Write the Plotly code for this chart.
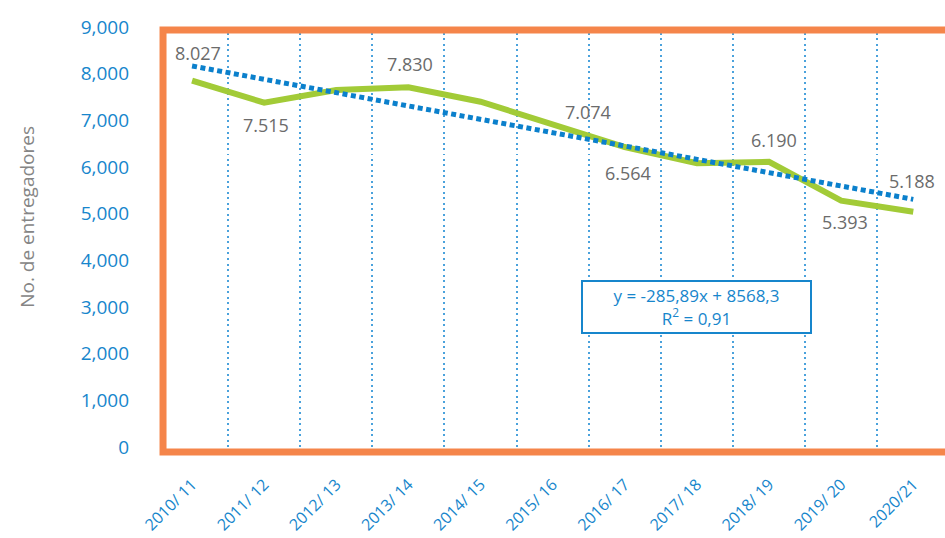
import plotly.graph_objects as go

# ---- data ----
categories = ["2010/ 11", "2011/ 12", "2012/ 13", "2013/ 14", "2014/ 15", "2015/ 16",
              "2016/ 17", "2017/ 18", "2018/ 19", "2019/ 20", "2020/21"]
entregadores = [7849, 7378, 7650, 7707, 7399, 6921, 6428, 6080, 6110, 5278, 5042]
tendencia = [8165, 7880, 7594, 7308, 7022, 6736, 6450, 6165, 5879, 5593, 5307]
label_cats = [0, 1, 3, 5, 6, 8, 9, 10]
label_texts = ["8.027", "7.515", "7.830", "7.074", "6.564", "6.190", "5.393", "5.188"]
y_ticks = [0, 1000, 2000, 3000, 4000, 5000, 6000, 7000, 8000, 9000]
equation = "y = -285,89x + 8568,3<br>R<sup>2</sup> = 0,91"
y_title = "No. de entregadores"

# ---- styles ----
BLUE = "#1786cc"
GREEN = "#a2cb37"
DOT_BLUE = "#0b80cc"
ORANGE = "#f5854a"
GRAY = "#6b6b6b"
FONT = "Open Sans"

# label offsets in pixels (dx, dy-up) relative to the line point
label_offsets = [(6, 28), (2, -22), (2, 23), (35, 12), (3, -26), (5, 22), (4, -21), (-1, 31)]

fig = go.Figure()
fig.add_trace(go.Scatter(x=categories, y=entregadores, mode="lines",
                         line=dict(color=GREEN, width=6), hoverinfo="skip", showlegend=False))
fig.add_trace(go.Scatter(x=categories, y=tendencia, mode="lines",
                         line=dict(color=DOT_BLUE, width=5, dash="5px,3.5px"), hoverinfo="skip",
                         showlegend=False))

annotations = []
for ci, txt, (dx, dy) in zip(label_cats, label_texts, label_offsets):
    annotations.append(dict(x=categories[ci], y=entregadores[ci], xref="x", yref="y",
                            text=txt, showarrow=False, xshift=dx, yshift=dy,
                            font=dict(family=FONT, size=18, color=GRAY)))

annotations.append(dict(x=categories[7], y=3000, xref="x", yref="y", text=equation,
                        showarrow=False, align="center", bgcolor="white",
                        bordercolor=BLUE, borderwidth=2, borderpad=3, width=221, height=44,
                        font=dict(family=FONT, size=17, color=BLUE)))

annotations.append(dict(x=-0.1635, y=0.548, xref="paper", yref="paper", text=y_title,
                        xanchor="center", yanchor="middle",
                        showarrow=False, textangle=-90,
                        font=dict(family=FONT, size=19, color="#858585")))

fig.update_layout(
    width=945, height=538, autosize=False,
    margin=dict(l=156, r=0, t=27, b=91),
    plot_bgcolor="white", paper_bgcolor="white",
    showlegend=False,
    annotations=annotations,
    shapes=[dict(type="rect", xref="paper", yref="paper",
                 x0=0.0089, x1=1.05, y0=-0.0119, y1=0.9929,
                 line=dict(color=ORANGE, width=7), layer="above")],
    xaxis=dict(type="category", range=[-0.5, 10.44], tickson="boundaries",
               showgrid=True, gridcolor="#4aa2dc", gridwidth=1.5, griddash="2px,3.5px",
               ticks="", tickangle=-45, showline=False, zeroline=False,
               automargin=False, ticklabelstandoff=24,
               tickfont=dict(family=FONT, size=16, color=BLUE)),
    yaxis=dict(range=[0, 9000], tickvals=y_ticks, tickformat=",", showgrid=False,
               zeroline=False, showline=False, ticks="", ticklabelstandoff=26,
               automargin=False,
               tickfont=dict(family=FONT, size=19, color=BLUE)),
)

fig.write_html("out.html", config={"displayModeBar": False},
               post_script="document.body.style.margin='0px';document.body.style.overflow='hidden';")
